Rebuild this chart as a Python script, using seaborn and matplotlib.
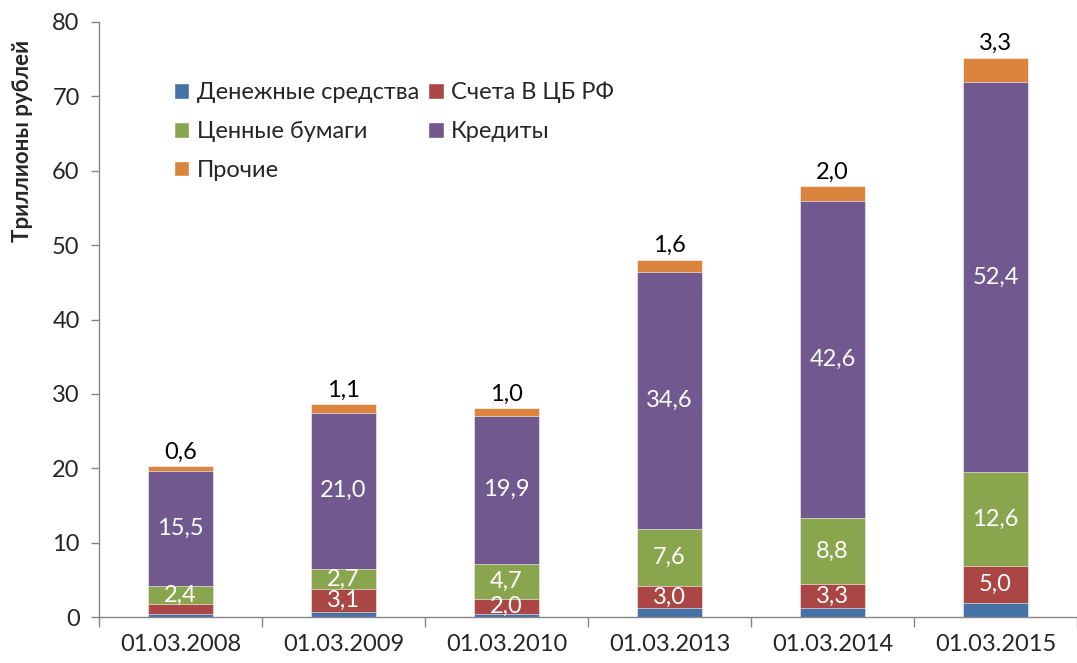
import numpy as np
import pandas as pd
import seaborn as sns
import matplotlib
matplotlib.use('Agg')
import matplotlib.pyplot as plt
from matplotlib.patches import Patch

# data (trillion rubles)
dates = ['01.03.2008', '01.03.2009', '01.03.2010', '01.03.2013', '01.03.2014', '01.03.2015']
cash       = [0.4, 0.7, 0.5, 1.2, 1.2, 1.9]
cb_acc     = [1.4, 3.1, 2.0, 3.0, 3.3, 5.0]
securities = [2.4, 2.7, 4.7, 7.6, 8.8, 12.6]
credits    = [15.5, 21.0, 19.9, 34.6, 42.6, 52.4]
other      = [0.6, 1.1, 1.0, 1.6, 2.0, 3.3]

names  = ['Денежные средства', 'Счета В ЦБ РФ', 'Ценные бумаги', 'Кредиты', 'Прочие']
colors = ['#4572A7', '#AA4643', '#89A54E', '#71588F', '#DB843D']

sns.set_theme(style='white')
plt.rcParams['font.family'] = ['Lato', 'DejaVu Sans']

df = pd.DataFrame({'date': dates, names[0]: cash, names[1]: cb_acc,
                   names[2]: securities, names[3]: credits, names[4]: other})
cum = df[names].cumsum(axis=1)

fig = plt.figure(figsize=(10.77, 6.63), dpi=100)
ax = fig.add_axes([0.092, 0.069, 0.908, 0.898])

# draw cumulative totals from top layer down so each segment shows
for nm, col in reversed(list(zip(names, colors))):
  sns.barplot(x=df['date'], y=cum[nm], color=col, width=0.4, ax=ax,
              edgecolor='white', linewidth=0.4, saturation=1)

FS = 17
# data labels
for i in range(len(dates)):
  for k, nm in enumerate(names):
    v = df[nm][i]
    txt = '{:.1f}'.format(v).replace('.', ',')
    top = cum[nm][i]
    if k == 4:
      ax.text(i, top + 0.5, txt, ha='center', va='bottom', fontsize=FS, color='black')
    elif k > 0 and v >= 1.5:
      ax.text(i, top - v / 2, txt, ha='center', va='center', fontsize=FS, color='white')

ax.set_ylim(0, 80)
ax.set_xlim(-0.5, len(dates) - 0.5)
ax.set_yticks(range(0, 81, 10))
ax.set_ylabel('Триллионы рублей', fontsize=16, fontweight='bold')
ax.yaxis.set_label_coords(-0.068, 0.80)
ax.set_xlabel('')
ax.set_xticks(range(len(dates)))
ax.set_xticklabels(dates)
ax.set_xticks(np.arange(-0.5, len(dates), 1.0), minor=True)
ax.tick_params(axis='x', which='major', length=0, labelsize=FS, pad=12)
ax.tick_params(axis='x', which='minor', length=7, width=1, color='#868686', direction='out', bottom=True)
ax.tick_params(axis='y', length=6, width=1, color='#868686', direction='out', left=True, labelsize=FS, pad=8)

sns.despine(ax=ax)
for s in ['left', 'bottom']:
  ax.spines[s].set_color('#868686')
  ax.spines[s].set_linewidth(1)

# legend filled row by row like the original (matplotlib fills by column)
order = [0, 2, 4, 1, 3]
handles = [Patch(facecolor=colors[j], label=names[j]) for j in order]
ax.legend(handles=handles, ncol=2, frameon=False, fontsize=FS,
          loc='upper left', bbox_to_anchor=(0.055, 0.935),
          handlelength=0.65, handleheight=0.65, handletextpad=0.3,
          columnspacing=0.4, labelspacing=0.75)

fig.savefig('out.png', dpi=100)
